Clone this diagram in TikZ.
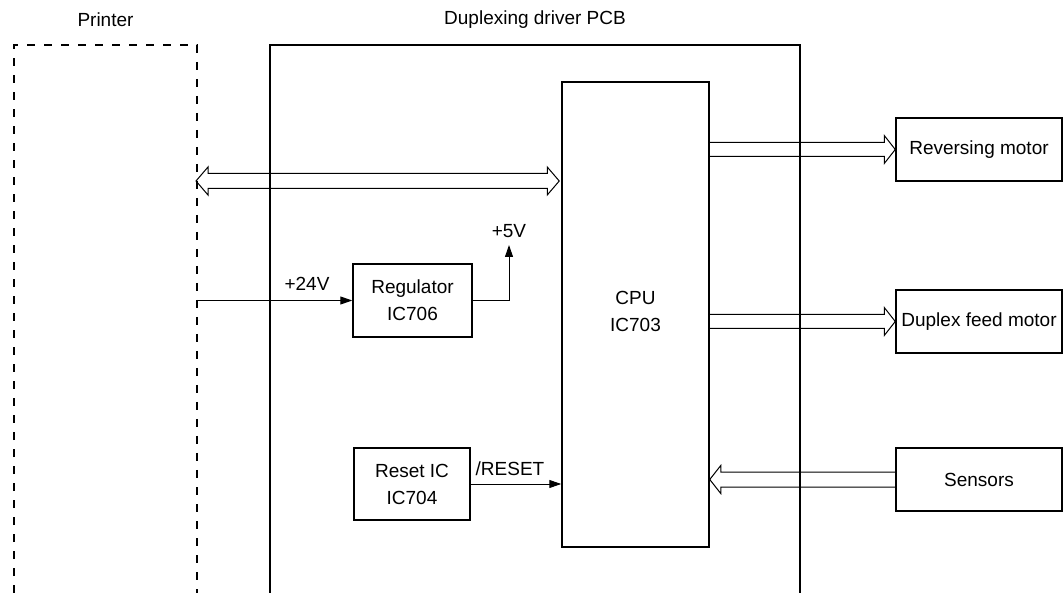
\documentclass[tikz,border=0pt]{standalone}
\usepackage{fontspec}
\setmainfont{Liberation Sans}
\usetikzlibrary{arrows.meta,calc}
\begin{document}
\begin{tikzpicture}[x=1pt,y=-1pt,
 box/.style={draw, line width=1.5pt, align=center, inner sep=0pt, font=\fontsize{19}{27}\selectfont},
 lbl/.style={font=\fontsize{19}{23}\selectfont, inner sep=0pt},
 sig/.style={line width=1pt, -{Triangle[length=12pt,width=8pt]}},
 bus/.style={line width=1pt, line join=miter}]
\useasboundingbox (0,0) rectangle (1063,593);
% printer (dashed, open at bottom)
\coordinate (prBL) at (14,593); \coordinate (prTL) at (14,45);
\coordinate (prTR) at (197,45); \coordinate (prBR) at (197,593);
\draw[line width=2pt, dash pattern=on 8pt off 9pt] (prBL) -- (prTL) -- (prTR) -- (prBR);
\node[lbl] (prlabel) at (105.5,20) {Printer};
% PCB (open at bottom)
\coordinate (pcbBL) at (270,593); \coordinate (pcbTL) at (270,45);
\coordinate (pcbTR) at (800,45); \coordinate (pcbBR) at (800,593);
\draw[line width=2pt] (pcbBL) -- (pcbTL) -- (pcbTR) -- (pcbBR);
\node[lbl] (pcblabel) at (535,20) {Duplexing driver PCB};
% boxes
\node[box, minimum width=147, minimum height=465] (cpu) at (635.5,314.5) {};
\node[lbl, align=center, font=\fontsize{19}{27}\selectfont] (cputext) at (635.5,311) {CPU\\IC703};
\node[box, minimum width=119, minimum height=73] (reg) at (412.5,300.5) {Regulator\\IC706};
\node[box, minimum width=116, minimum height=72] (reset) at (412,484) {Reset IC\\IC704};
\node[box, minimum width=166, minimum height=63] (rev) at (979,149.5) {Reversing motor};
\node[box, minimum width=166, minimum height=63] (dup) at (979,321.5) {Duplex feed motor};
\node[box, minimum width=166, minimum height=63] (sens) at (979,479.5) {Sensors};
% bidirectional bus printer <-> CPU
\coordinate (busL) at (196,181);
\draw[bus] let \p1=(busL), \p2=($(cpu.west|-busL)+(-2,0)$) in
  (\x1,\y1) -- (\x1+12pt,\y1-14pt) -- (\x1+12pt,\y1-7.5pt) -- (\x2-12pt,\y1-7.5pt)
  -- (\x2-12pt,\y1-14pt) -- (\x2,\y1) -- (\x2-12pt,\y1+14pt) -- (\x2-12pt,\y1+7.5pt)
  -- (\x1+12pt,\y1+7.5pt) -- (\x1+12pt,\y1+14pt) -- cycle;
% CPU -> reversing motor
\draw[bus] let \p1=(cpu.east |- rev.west), \p2=(rev.west) in
  (\x1,\y1-7pt) -- (\x2-11pt,\y1-7pt) -- (\x2-11pt,\y1-14pt) -- (\x2,\y1)
  -- (\x2-11pt,\y1+14pt) -- (\x2-11pt,\y1+7pt) -- (\x1,\y1+7pt);
% CPU -> duplex feed motor
\draw[bus] let \p1=(cpu.east |- dup.west), \p2=(dup.west) in
  (\x1,\y1-7pt) -- (\x2-11pt,\y1-7pt) -- (\x2-11pt,\y1-14pt) -- (\x2,\y1)
  -- (\x2-11pt,\y1+14pt) -- (\x2-11pt,\y1+7pt) -- (\x1,\y1+7pt);
% sensors -> CPU
\draw[bus] let \p1=(sens.west), \p2=(cpu.east |- sens.west) in
  (\x1,\y1-7.5pt) -- (\x2+11pt,\y1-7.5pt) -- (\x2+11pt,\y1-14pt) -- (\x2,\y1)
  -- (\x2+11pt,\y1+14pt) -- (\x2+11pt,\y1+7.5pt) -- (\x1,\y1+7.5pt);
% signals
\draw[sig] (prTR |- reg.west) -- (reg.west);
\node[lbl] (v24label) at (307,284) {+24V};
\coordinate (v5) at (509,245);
\draw[sig] (reg.east) -| (v5);
\node[lbl] (v5label) at (509,231) {+5V};
\draw[sig] (reset.east) -- (cpu.west |- reset.east);
\node[lbl] (rstlabel) at (510,469) {/RESET};
\end{tikzpicture}
\end{document}
